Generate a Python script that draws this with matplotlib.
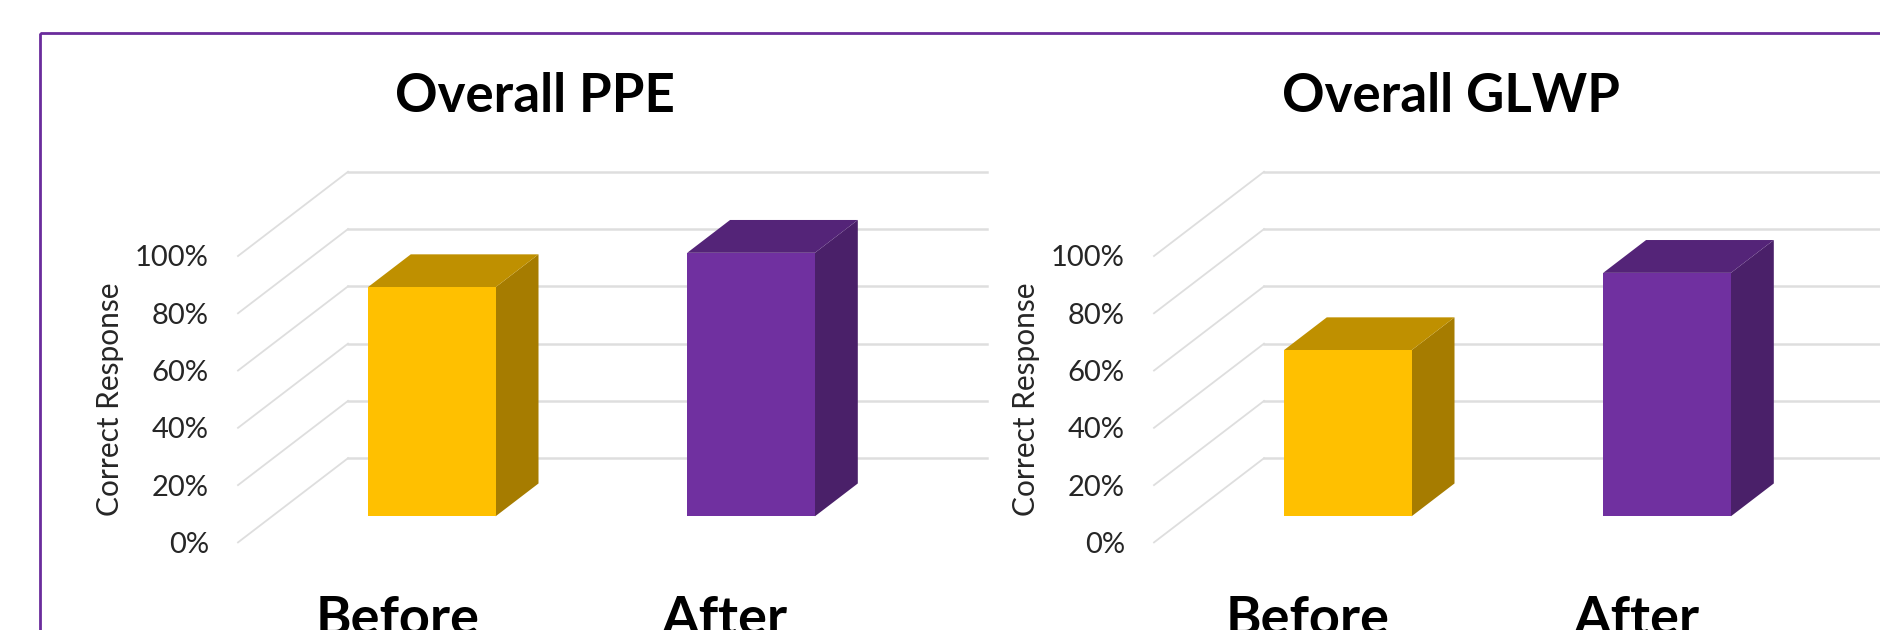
import matplotlib
matplotlib.use("Agg")
import matplotlib.pyplot as plt
from matplotlib.patches import Polygon, Rectangle
from matplotlib.transforms import ScaledTranslation

plt.rcParams['font.family'] = ['Lato', 'DejaVu Sans']

categories = ["Before", "After"]
titles = ["Overall PPE", "Overall GLWP"]
ppe_values = [80, 92]
glwp_values = [58, 85]
y_ticks = [0, 20, 40, 60, 80, 100]
y_labels = ["0%", "20%", "40%", "60%", "80%", "100%"]

W, H = 1880, 630
FRONT = ["#FFC000", "#7030A0"]
TOP = ["#BF9000", "#542478"]
SIDE = ["#A67C00", "#4A2069"]
GRID = "#DEDEDE"

# oblique projection, depth 0 = front of floor, depth 1 = back wall
DX, DY = 0.3445, 29.4
BAR_W = 0.40
BAR_D0, BAR_D1 = 0.31, 0.70


def proj(x, y, d):
    return (x + d * DX, y + d * DY)


def draw_panel(ax, title, values, label_shift):
    ax.set_xlim(-0.5, 1.5)
    ax.set_ylim(0, 100)
    for s in ax.spines.values():
        s.set_visible(False)
    ax.patch.set_visible(False)

    for v in y_ticks:
        x0, y0 = proj(-0.5, v, 0)
        x1, y1 = proj(-0.5, v, 1)
        x2, y2 = proj(1.5, v, 1)
        ax.plot([x0, x1], [y0, y1], color=GRID, lw=1.3, clip_on=False, zorder=1)
        ax.plot([x1, x2], [y1, y2], color=GRID, lw=1.8, clip_on=False, zorder=1)

    for i, v in enumerate(values):
        l, r = i - BAR_W / 2, i + BAR_W / 2
        front = [proj(l, 0, BAR_D0), proj(r, 0, BAR_D0), proj(r, v, BAR_D0), proj(l, v, BAR_D0)]
        top = [proj(l, v, BAR_D0), proj(r, v, BAR_D0), proj(r, v, BAR_D1), proj(l, v, BAR_D1)]
        side = [proj(r, 0, BAR_D0), proj(r, 0, BAR_D1), proj(r, v, BAR_D1), proj(r, v, BAR_D0)]
        for pts, c in [(side, SIDE[i]), (top, TOP[i]), (front, FRONT[i])]:
            ax.add_patch(Polygon(pts, closed=True, fc=c, ec="none", clip_on=False, zorder=3))

    ax.set_yticks(y_ticks, y_labels, fontsize=21, color="#262626")
    ax.set_xticks([0, 1], categories, fontsize=39, fontweight="bold", color="black")
    ax.tick_params(axis="y", length=0, pad=21)
    ax.tick_params(axis="x", length=0, pad=38)
    for lab, shift in zip(ax.get_xticklabels(), label_shift):
        lab.set_transform(lab.get_transform() + ScaledTranslation(shift / 100, 0, fig.dpi_scale_trans))
    ax.set_ylabel("Correct Response", fontsize=21.5, color="#262626", labelpad=8)
    ax.set_title(title, x=0.465, fontsize=38, fontweight="bold", color="black", pad=104)


fig = plt.figure(figsize=(W / 100, H / 100), dpi=100, facecolor="white")

# purple frame runs off the right and bottom edges
fig.add_artist(Rectangle((39.5 / W, 1 - 33 / H), 2, -2, transform=fig.transFigure,
                         fill=False, ec="#6A2C9C", lw=2.0))

bottom = 1 - 542.4 / H
height = 286.4 / H
ax1 = fig.add_axes([238 / W, bottom, 638.6 / W, height])
ax2 = fig.add_axes([1154 / W, bottom, 638.6 / W, height])
draw_panel(ax1, titles[0], ppe_values, [0, 7])
draw_panel(ax2, titles[1], glwp_values, [-6, 3])

fig.savefig("out.png", dpi=100)
